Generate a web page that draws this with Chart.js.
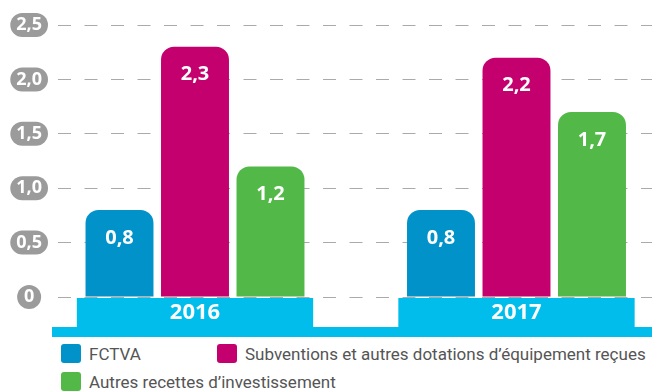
<!DOCTYPE html>
<html lang="fr">
<head>
<meta charset="utf-8">
<script src="https://cdn.jsdelivr.net/npm/chart.js@4.4.1/dist/chart.umd.min.js"></script>
<style>
  html, body { margin: 0; padding: 0; background: #fff; }
  #wrap { position: relative; width: 652px; height: 392px; overflow: hidden; }
  #box { position: absolute; left: 0; top: 0; width: 652px; height: 340px; }
  #legend { position: absolute; left: 61px; top: 344px; display: grid; grid-template-columns: 156px auto; row-gap: 9px;
            font: 17px Roboto, sans-serif; color: #555; }
  #legend .item { display: flex; align-items: center; height: 19px; white-space: nowrap; }
  #legend .swatch { width: 20px; height: 19px; border-radius: 3px; margin-right: 8px; flex: none; }
</style>
</head>
<body>
<div id="wrap">
  <div id="box"><canvas id="chart"></canvas></div>
  <div id="legend"></div>
</div>
<script>
const years = [2016, 2017];
const fctva = [0.8, 0.8];
const subventions = [2.3, 2.2];
const autresRecettes = [1.2, 1.7];
const seriesLabels = ['FCTVA', 'Subventions et autres dotations d’équipement reçues', 'Autres recettes d’investissement'];
const seriesColors = ['#0092c8', '#c4006f', '#52b848'];
const yTicks = [0, 0.5, 1, 1.5, 2, 2.5];

const CYAN = '#00bdeb';
const FONT = "'Open Sans', sans-serif";

// French decimal format, plain "0" for zero
const fmt = v => v === 0 ? '0' : v.toFixed(1).replace('.', ',');
const toPoints = vals => vals.map((v, i) => ({ x: years[i], y: v }));

Chart.defaults.font.family = FONT;

// grey rounded badges behind the y tick labels
const tickPills = {
  id: 'tickPills',
  beforeDraw(chart) {
    const scale = chart.scales.y;
    const ctx = chart.ctx;
    ctx.save();
    ctx.font = 'bold 18px ' + FONT;
    ctx.fillStyle = '#9b9b9b';
    scale.getLabelItems().forEach(item => {
      const [x, y] = item.options.translation;
      const w = Math.max(24, ctx.measureText(item.label).width + 12);
      ctx.beginPath();
      ctx.roundRect(x - w / 2, y - 12, w, 24, 12);
      ctx.fill();
    });
    ctx.restore();
  }
};

// value written inside the top of each bar
const barValues = {
  id: 'barValues',
  afterDatasetsDraw(chart) {
    const ctx = chart.ctx;
    ctx.save();
    ctx.fillStyle = '#fff';
    ctx.font = 'bold 20px ' + FONT;
    ctx.textAlign = 'center';
    ctx.textBaseline = 'middle';
    chart.data.datasets.forEach((ds, i) => {
      chart.getDatasetMeta(i).data.forEach((bar, j) => {
        ctx.fillText(fmt(ds.data[j].y), bar.x, bar.y + 28);
      });
    });
    ctx.restore();
  }
};

const series = [fctva, subventions, autresRecettes];

const chart = new Chart(document.getElementById('chart'), {
  type: 'bar',
  data: {
    datasets: series.map((vals, i) => ({
      label: seriesLabels[i],
      data: toPoints(vals),
      backgroundColor: seriesColors[i],
      xAxisID: 'x',
      yAxisID: 'y',
      barPercentage: 0.9,
      categoryPercentage: 0.7045,
      borderRadius: 13,
      borderSkipped: 'start'
    }))
  },
  options: {
    responsive: true,
    maintainAspectRatio: false,
    animation: false,
    layout: { padding: { top: 25, bottom: 3, left: 0, right: 0 } },
    plugins: {
      legend: { display: false },
      tooltip: { enabled: false }
    },
    scales: {
      x: {
        type: 'linear',
        position: 'bottom',
        weight: 0,
        offset: false,
        min: 2015.5552,
        max: 2017.4215,
        afterBuildTicks: s => { s.ticks = years.map(v => ({ value: v })); },
        afterFit: s => { s.height = 30; },
        grid: { display: false, drawTicks: false, offset: false },
        border: { display: false },
        ticks: {
          padding: 3,
          color: '#fff',
          font: { size: 22, weight: 'bold' },
          callback: v => String(v),
          maxRotation: 0,
          autoSkip: false,
          showLabelBackdrop: true,
          backdropColor: CYAN,
          backdropPadding: { top: 2, bottom: 1, left: 93, right: 93 }
        }
      },
      band: {
        type: 'linear',
        axis: 'x',
        position: 'bottom',
        weight: 1,
        display: true,
        offset: false,
        backgroundColor: CYAN,
        afterFit: s => { s.height = 10; },
        grid: { display: false },
        border: { display: false },
        ticks: { display: false }
      },
      y: {
        min: 0,
        max: 2.5,
        afterBuildTicks: s => { s.ticks = yTicks.map(v => ({ value: v })); },
        afterFit: s => { s.width = 52; },
        grid: { color: '#aaaaaa', lineWidth: 1, drawTicks: false },
        border: { display: false, dash: [13, 13.5], dashOffset: 20.5 },
        ticks: {
          padding: 10,
          crossAlign: 'center',
          color: '#fff',
          font: { size: 18, weight: 'bold' },
          callback: v => fmt(v)
        }
      }
    }
  },
  plugins: [tickPills, barValues]
});

// legend built from the datasets
const legendEl = document.getElementById('legend');
chart.data.datasets.forEach(ds => {
  const item = document.createElement('div');
  item.className = 'item';
  const sw = document.createElement('span');
  sw.className = 'swatch';
  sw.style.background = ds.backgroundColor;
  const txt = document.createElement('span');
  txt.textContent = ds.label;
  item.appendChild(sw);
  item.appendChild(txt);
  legendEl.appendChild(item);
});
</script>
</body>
</html>
